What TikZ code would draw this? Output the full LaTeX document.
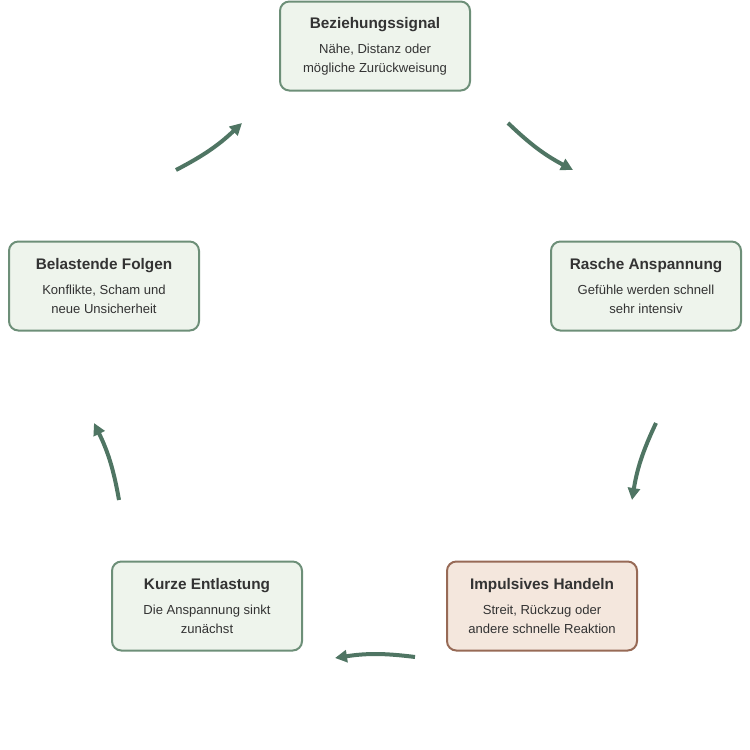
\documentclass[tikz,border=0pt]{standalone}
\usepackage{fontspec}
\setmainfont{Liberation Sans}
\usetikzlibrary{arrows.meta}
\definecolor{boxfill}{HTML}{EEF4EC}
\definecolor{boxline}{HTML}{6D8F78}
\definecolor{hotfill}{HTML}{F4E7DD}
\definecolor{hotline}{HTML}{976A56}
\definecolor{arrowcol}{HTML}{4F7563}
\definecolor{txt}{HTML}{333333}
\newcommand{\titlefont}{\fontsize{11.5}{14}\selectfont\bfseries}
\newcommand{\bodyfont}{\fontsize{9.8}{14}\selectfont\mdseries}
\tikzset{
  stage/.style={draw=boxline, fill=boxfill, line width=1.5pt, rounded corners=7pt,
    minimum width=142.5pt, minimum height=66.75pt, align=center, text=txt, inner sep=2pt,
    font=\titlefont},
  hot/.style={stage, draw=hotline, fill=hotfill},
  flow/.style={draw=arrowcol, line width=3pt, -{Triangle[length=9pt,width=9pt]}}
}
\begin{document}
\begin{tikzpicture}[x=0.75pt,y=-0.75pt]
  \useasboundingbox (0,0) rectangle (750,750);
  % Schritte im Kreis
  \node[stage] (signal) at (375,46) {Beziehungssignal\\[5pt]\bodyfont Nähe, Distanz oder\\\bodyfont mögliche Zurückweisung};
  \node[stage] (tension) at (646,286) {Rasche Anspannung\\[5pt]\bodyfont Gefühle werden schnell\\\bodyfont sehr intensiv};
  \node[hot] (action) at (542,606) {Impulsives Handeln\\[5pt]\bodyfont Streit, Rückzug oder\\\bodyfont andere schnelle Reaktion};
  \node[stage] (relief) at (207,606) {Kurze Entlastung\\[5pt]\bodyfont Die Anspannung sinkt\\\bodyfont zunächst};
  \node[stage] (burden) at (104,286) {Belastende Folgen\\[5pt]\bodyfont Konflikte, Scham und\\\bodyfont neue Unsicherheit};

  % Enden der Pfeile
  \coordinate (a1) at (508,123); \coordinate (b1) at (573,170);
  \coordinate (a2) at (656,423); \coordinate (b2) at (632,500);
  \coordinate (a3) at (415,657); \coordinate (b3) at (335,658);
  \coordinate (a4) at (119,500); \coordinate (b4) at (94,423);
  \coordinate (a5) at (176,170); \coordinate (b5) at (242,123);

  \draw[flow] (a1) to[bend right=8] (b1);
  \draw[flow] (a2) to[bend right=8] (b2);
  \draw[flow] (a3) to[bend right=8] (b3);
  \draw[flow] (a4) to[bend right=8] (b4);
  \draw[flow] (a5) to[bend right=8] (b5);
\end{tikzpicture}
\end{document}
